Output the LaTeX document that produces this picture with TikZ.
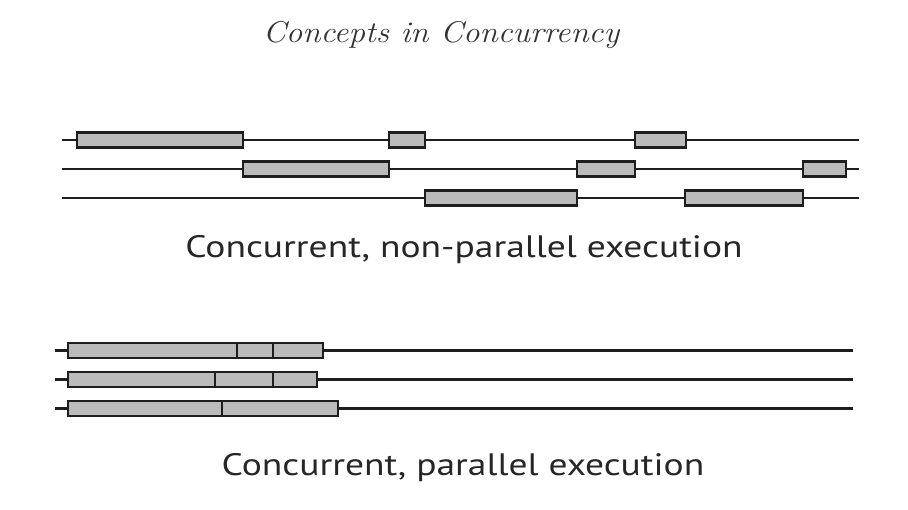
\documentclass[tikz,border=0pt]{standalone}
\usepackage{fontspec}
\newfontfamily\labelfont{PT Sans}[FakeStretch=1.21]
\newfontfamily\titlefont{Latin Modern Roman}[FakeStretch=1.1]
\definecolor{boxgray}{RGB}{187,187,187}
\definecolor{linegray}{RGB}{30,30,30}
\tikzset{
  timeline/.style={draw=linegray, line width=2.3pt},
  task/.style={draw=linegray, fill=boxgray, line width=2.3pt, rectangle, inner sep=0pt, outer sep=0pt, minimum height=15pt},
  caption/.style={font=\labelfont\fontsize{31}{36}\selectfont, text=black!85, inner sep=0pt},
  titletext/.style={font=\titlefont\itshape\fontsize{30}{35}\selectfont, text=black!80, inner sep=0pt}
}
\begin{document}
\begin{tikzpicture}[x=1pt, y=-1pt]
\useasboundingbox (0,0) rectangle (908,510);
\node[titletext] (title) at (441,35) {Concepts in Concurrency};
% top: concurrent, non-parallel
\coordinate (a1s) at (62,140); \coordinate (a1e) at (859,140);
\coordinate (a2s) at (62,169); \coordinate (a2e) at (859,169);
\coordinate (a3s) at (62,198); \coordinate (a3e) at (859,198);
\draw[timeline] (a1s) -- (a1e);
\draw[timeline] (a2s) -- (a2e);
\draw[timeline] (a3s) -- (a3e);
\node[task, minimum width=166pt] (t11) at (160,140) {};
\node[task, minimum width=36pt] (t12) at (407,140) {};
\node[task, minimum width=51pt] (t13) at (660.5,140) {};
\node[task, minimum width=146pt] (t21) at (316,169) {};
\node[task, minimum width=58pt] (t22) at (606,169) {};
\node[task, minimum width=43pt] (t23) at (824.5,169) {};
\node[task, minimum width=152pt] (t31) at (501,198) {};
\node[task, minimum width=118pt] (t32) at (744,198) {};
\node[caption] (cap1) at (464,250) {Concurrent, non-parallel execution};
% bottom: concurrent, parallel
\coordinate (b1s) at (55,350.5); \coordinate (b1e) at (853,350.5);
\coordinate (b2s) at (55,379.5); \coordinate (b2e) at (853,379.5);
\coordinate (b3s) at (55,408.5); \coordinate (b3e) at (853,408.5);
\draw[timeline] (b1s) -- (b1e);
\draw[timeline] (b2s) -- (b2e);
\draw[timeline] (b3s) -- (b3e);
\node[task, minimum width=169pt] (p11) at (152.5,350.5) {};
\node[task, minimum width=36pt] (p12) at (255,350.5) {};
\node[task, minimum width=50pt] (p13) at (298,350.5) {};
\node[task, minimum width=147pt] (p21) at (141.5,379.5) {};
\node[task, minimum width=58pt] (p22) at (244,379.5) {};
\node[task, minimum width=44pt] (p23) at (295,379.5) {};
\node[task, minimum width=154pt] (p31) at (145,408.5) {};
\node[task, minimum width=116pt] (p32) at (280,408.5) {};
\node[caption] (cap2) at (463,468) {Concurrent, parallel execution};
\end{tikzpicture}
\end{document}
